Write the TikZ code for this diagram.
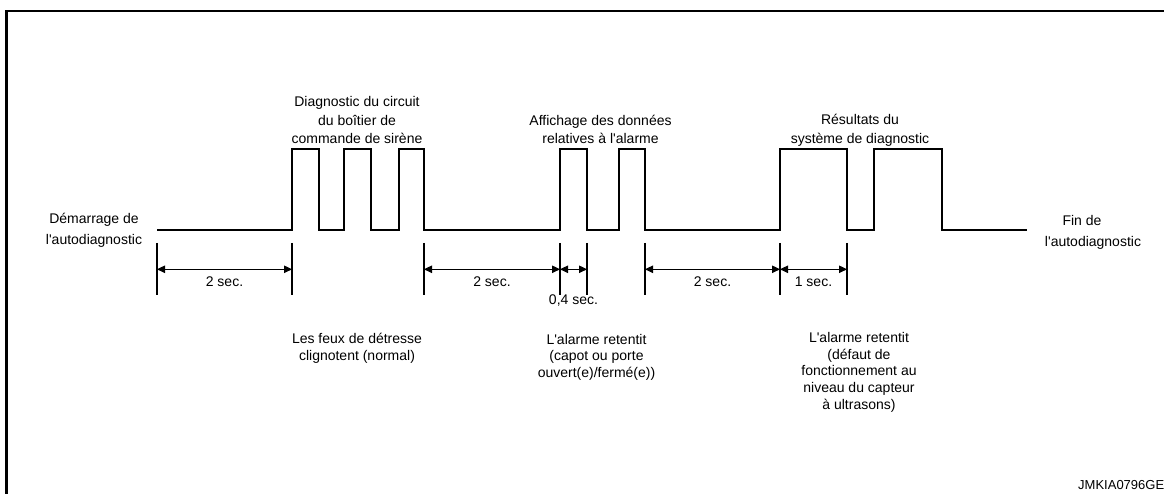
\documentclass[tikz,border=0pt]{standalone}
\usepackage{fontspec}
\setmainfont{Liberation Sans}[Ligatures=TeXOff]
\usetikzlibrary{arrows.meta}
\begin{document}
\begin{tikzpicture}[x=1pt,y=-1pt,
  frame/.style={line width=2.6pt},
  wave/.style={line width=1.6pt, line join=miter},
  tick/.style={line width=1.5pt},
  dim/.style={line width=1.1pt, {Triangle[length=8pt,width=7.5pt]}-{Triangle[length=8pt,width=7.5pt]}},
  lbl/.style={font=\fontsize{14}{18.3}\selectfont, align=center, inner sep=0pt},
  lblb/.style={lbl, font=\fontsize{14}{16.7}\selectfont},
  dimlbl/.style={font=\fontsize{14}{16}\selectfont, inner sep=0pt, anchor=base, midway}
]
\useasboundingbox (0,0) rectangle (1164,494);
\clip (0,0) rectangle (1164,494);
% frame
\draw[frame] (6.7,11) rectangle (1190,520);
% waveform
\draw[wave] (157,230) -- (292,230) -- (292,149) -- (319,149) -- (319,230)
  -- (344,230) -- (344,149) -- (371,149) -- (371,230)
  -- (399,230) -- (399,149) -- (424,149) -- (424,230)
  -- (560,230) -- (560,149) -- (587,149) -- (587,230)
  -- (619,230) -- (619,149) -- (645,149) -- (645,230)
  -- (780,230) -- (780,149) -- (847,149) -- (847,230)
  -- (874,230) -- (874,149) -- (942,149) -- (942,230) -- (1027,230);
% ticks
\foreach \i/\x in {1/157,2/292,3/424,4/560,5/587,6/645,7/780,8/847} {
  \coordinate (t\i) at (\x,243);
  \coordinate (b\i) at (\x,295);
  \coordinate (d\i) at (\x,269.3);
  \draw[tick] (t\i) -- (b\i);
}
% dimensions
\draw[dim] (d1) -- node[dimlbl, yshift=-17.4pt] (s1) {2 sec.} (d2);
\draw[dim] (d3) -- node[dimlbl, yshift=-17.4pt] (s2) {2 sec.} (d4);
\draw[dim] (d4) -- node[dimlbl, yshift=-35.2pt] (s3) {0,4 sec.} (d5);
\draw[dim] (d6) -- node[dimlbl, yshift=-17.4pt] (s4) {2 sec.} (d7);
\draw[dim] (d7) -- node[dimlbl, yshift=-17.4pt] (s5) {1 sec.} (d8);
% labels
\node[lbl] (diag) at (357,120.1) {Diagnostic du circuit\\du boîtier de\\commande de sirène};
\node[lbl] (affi) at (600.5,129.2) {Affichage des données\\relatives à l'alarme};
\node[lbl] (resu) at (860,130.4) {Résultats du\\système de diagnostic};
\node[lbl, font=\fontsize{14}{21.5}\selectfont] (start) at (94,230.1) {Démarrage de\\l'autodiagnostic};
\node[lbl, font=\fontsize{14}{20.5}\selectfont] (end) at (1093,232.5) {Fin de\hspace*{22pt}\\l'autodiagnostic};
\node[lblb] (feux) at (357,348.6) {Les feux de détresse\\clignotent (normal)};
\node[lblb] (alarmA) at (596.5,357.2) {L'alarme retentit\\(capot ou porte\\ouvert(e)/fermé(e))};
\node[lblb] (alarmB) at (859,372.2) {L'alarme retentit\\(défaut de\\fonctionnement au\\niveau du capteur\\à ultrasons)};
\node[font=\fontsize{13}{15}\selectfont, anchor=base west, inner sep=0pt] (ref) at (1078,489) {JMKIA0796GE};
\end{tikzpicture}
\end{document}
